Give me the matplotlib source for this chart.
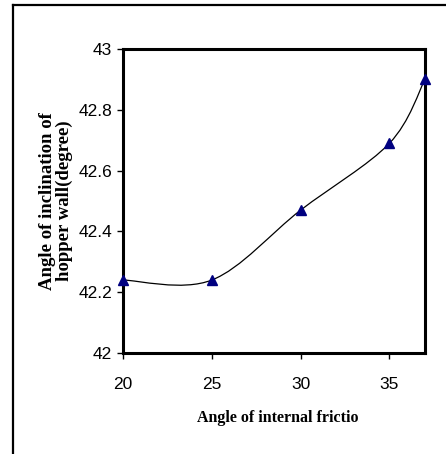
import numpy as np
import matplotlib
matplotlib.use('Agg')
import matplotlib.pyplot as plt
from matplotlib.path import Path
from matplotlib.patches import PathPatch
from matplotlib.lines import Line2D
from matplotlib.transforms import Bbox

# data
friction = [20, 25, 30, 35, 37]
inclination = [42.24, 42.24, 42.47, 42.69, 42.90]
x_ticks = [20, 25, 30, 35]
y_ticks = [42, 42.2, 42.4, 42.6, 42.8, 43]

tick_font = ['Liberation Sans', 'DejaVu Sans']
label_font = ['Liberation Serif', 'DejaVu Serif']


def smooth_path(xs, ys):
    # excel style smoothed line: bezier pieces, control points from neighbours
    pts = np.column_stack([xs, ys]).astype(float)
    n = len(pts)
    verts = [pts[0]]
    codes = [Path.MOVETO]
    for i in range(n - 1):
        p_prev = pts[i - 1] if i > 0 else pts[i]
        p_next2 = pts[i + 2] if i + 2 < n else pts[i + 1]
        c1 = pts[i] + (pts[i + 1] - p_prev) / 6
        c2 = pts[i + 1] - (p_next2 - pts[i]) / 6
        verts += [c1, c2, pts[i + 1]]
        codes += [Path.CURVE4] * 3
    return Path(verts, codes)


fig = plt.figure(figsize=(4.46, 4.54), dpi=100)
ax = fig.add_axes([123 / 446, 101 / 454, 302 / 446, 304 / 454])

ax.add_patch(PathPatch(smooth_path(friction, inclination), fill=False,
                       edgecolor='black', linewidth=0.9))
ax.plot(friction, inclination, linestyle='none', marker='^', markersize=7,
        color='#000080', markeredgecolor='#000080', clip_on=False, zorder=5)

ax.set_xlim(20, 37)
ax.set_ylim(42, 43)
ax.set_xticks(x_ticks)
ax.set_yticks(y_ticks)
ax.set_yticklabels(['42', '42.2', '42.4', '42.6', '42.8', '43'])
for sp in ax.spines.values():
    sp.set_linewidth(2.2)
ax.tick_params(axis='both', direction='out', length=4, width=1)
ax.tick_params(axis='x', pad=13)
ax.tick_params(axis='y', pad=4)
for lab in ax.get_xticklabels() + ax.get_yticklabels():
    lab.set_family(tick_font)
    lab.set_fontsize(12.5)

ax.set_ylabel('Angle of inclination of\nhopper wall(degree)', family=label_font,
              fontweight='bold', fontsize=13.5, linespacing=1.0)
ax.yaxis.set_label_coords(-(123 - 73) / 302, 0.5)

xl = ax.set_xlabel('Angle of internal friction', family=label_font,
                   fontweight='bold', fontsize=11.5, ha='left')
ax.xaxis.set_label_coords((197 - 123) / 302, -(418 - 353) / 304)
xl.set_va('center')
xl.set_clip_on(True)
xl.set_clip_box(Bbox.from_extents(0, 0, 359, 454))

# outer frame (only top and left edges show)
fig.add_artist(Line2D([12.5 / 446, 1], [1 - 5 / 454, 1 - 5 / 454],
                      color='black', linewidth=1.6))
fig.add_artist(Line2D([12.5 / 446, 12.5 / 446], [0, 1 - 5 / 454],
                      color='black', linewidth=1.6))

fig.savefig('out.png', dpi=100)
